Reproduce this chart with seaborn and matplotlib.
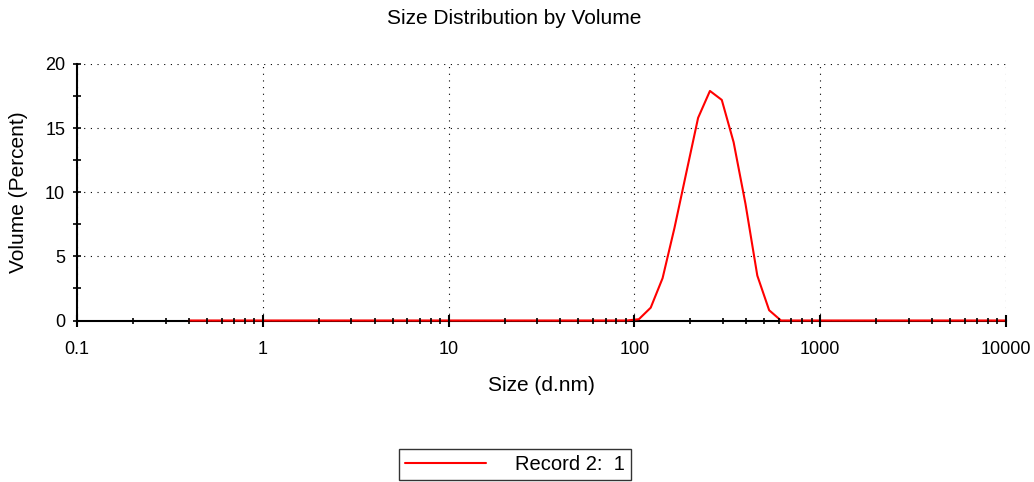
import matplotlib
matplotlib.use("Agg")
import matplotlib.pyplot as plt
import matplotlib.ticker as mticker
import seaborn as sns
import pandas as pd

sizes = [0.4000, 0.4632, 0.5365, 0.6213, 0.7195, 0.8332, 0.9649, 1.117, 1.294, 1.499,
         1.736, 2.010, 2.328, 2.696, 3.122, 3.615, 4.187, 4.849, 5.615, 6.503,
         7.531, 8.721, 10.10, 11.70, 13.54, 15.69, 18.17, 21.04, 24.36, 28.21,
         32.67, 37.84, 43.82, 50.75, 58.77, 68.06, 78.82, 91.28, 105.7, 122.4,
         141.8, 164.2, 190.1, 220.2, 255.0, 295.3, 342.0, 396.1, 458.7, 531.2,
         615.1, 712.4, 825.0, 955.4, 1106, 1281, 1484, 1718, 1990, 2305,
         2669, 3091, 3580, 4145, 4801, 5560, 6439, 7456, 8635, 10000]
volume = [0, 0, 0, 0, 0, 0, 0, 0, 0, 0,
          0, 0, 0, 0, 0, 0, 0, 0, 0, 0,
          0, 0, 0, 0, 0, 0, 0, 0, 0, 0,
          0, 0, 0, 0, 0, 0, 0, 0, 0.1, 1.0,
          3.3, 7.2, 11.5, 15.8, 17.9, 17.2, 13.9, 9.1, 3.5, 0.8,
          0, 0, 0, 0, 0, 0, 0, 0, 0, 0,
          0, 0, 0, 0, 0, 0, 0, 0, 0, 0]
series_label = "Record 2:  1"
x_ticks = [0.1, 1, 10, 100, 1000, 10000]
x_tick_labels = ["0.1", "1", "10", "100", "1000", "10000"]
y_ticks = [0, 5, 10, 15, 20]

sns.set_style("white")
plt.rcParams['font.family'] = ['Liberation Sans', 'DejaVu Sans']
plt.rcParams['text.color'] = 'black'
plt.rcParams['axes.labelcolor'] = 'black'

df = pd.DataFrame({"size": sizes, "volume": volume, "rec": series_label})

fig = plt.figure(figsize=(10.34, 4.82), dpi=100)
ax = fig.add_axes([77/1034, 1-320.5/482, (1006-77)/1034, (320.5-64)/482])

sns.lineplot(data=df, x="size", y="volume", hue="rec", palette=["#ff0000"],
             ax=ax, linewidth=1.5, legend=False, clip_on=False, zorder=3)

ax.set_xscale("log")
ax.set_xlim(0.1, 10000)
ax.set_ylim(0, 20)
ax.set_xticks(x_ticks)
ax.set_xticklabels(x_tick_labels)
ax.xaxis.set_minor_locator(mticker.LogLocator(base=10, subs=range(2, 10), numticks=20))
ax.xaxis.set_minor_formatter(mticker.NullFormatter())
ax.set_yticks(y_ticks)
ax.yaxis.set_minor_locator(mticker.MultipleLocator(2.5))

for s in ["top", "right"]:
    ax.spines[s].set_visible(False)
for s in ["left", "bottom"]:
    ax.spines[s].set_color("black")
    ax.spines[s].set_linewidth(1.5)

ax.tick_params(which="both", bottom=True, left=True, top=False, right=False)
ax.tick_params(axis="x", which="major", direction="inout", length=8, width=1.5,
               colors="black", labelsize=13, pad=11)
ax.tick_params(axis="x", which="minor", direction="inout", length=5, width=1.2, colors="black")
ax.tick_params(axis="y", which="both", direction="inout", length=6, width=1.2,
               colors="black", labelsize=13, pad=5.5)

ax.grid(True, which="major", axis="both", color="black", linestyle=(0, (1, 5)), linewidth=0.8)
ax.xaxis.set_zorder(4)
ax.yaxis.set_zorder(4)

ax.set_xlabel("Size (d.nm)", fontsize=15, labelpad=13)
ax.set_ylabel("Volume (Percent)", fontsize=15, labelpad=12)
fig.suptitle("Size Distribution by Volume", x=0.497, y=1-18/482, va="center", fontsize=15)

handle = plt.Line2D([], [], color="#ff0000", linewidth=1.5)
leg = fig.legend([handle], [series_label], loc="center",
                 bbox_to_anchor=(515/1034, 1-464.5/482), fontsize=14.5,
                 frameon=True, fancybox=False, edgecolor="black",
                 handlelength=4.0, handletextpad=1.45, borderpad=0.3, borderaxespad=0)
leg.get_frame().set_linewidth(1.0)

fig.savefig("out.png", dpi=100)
